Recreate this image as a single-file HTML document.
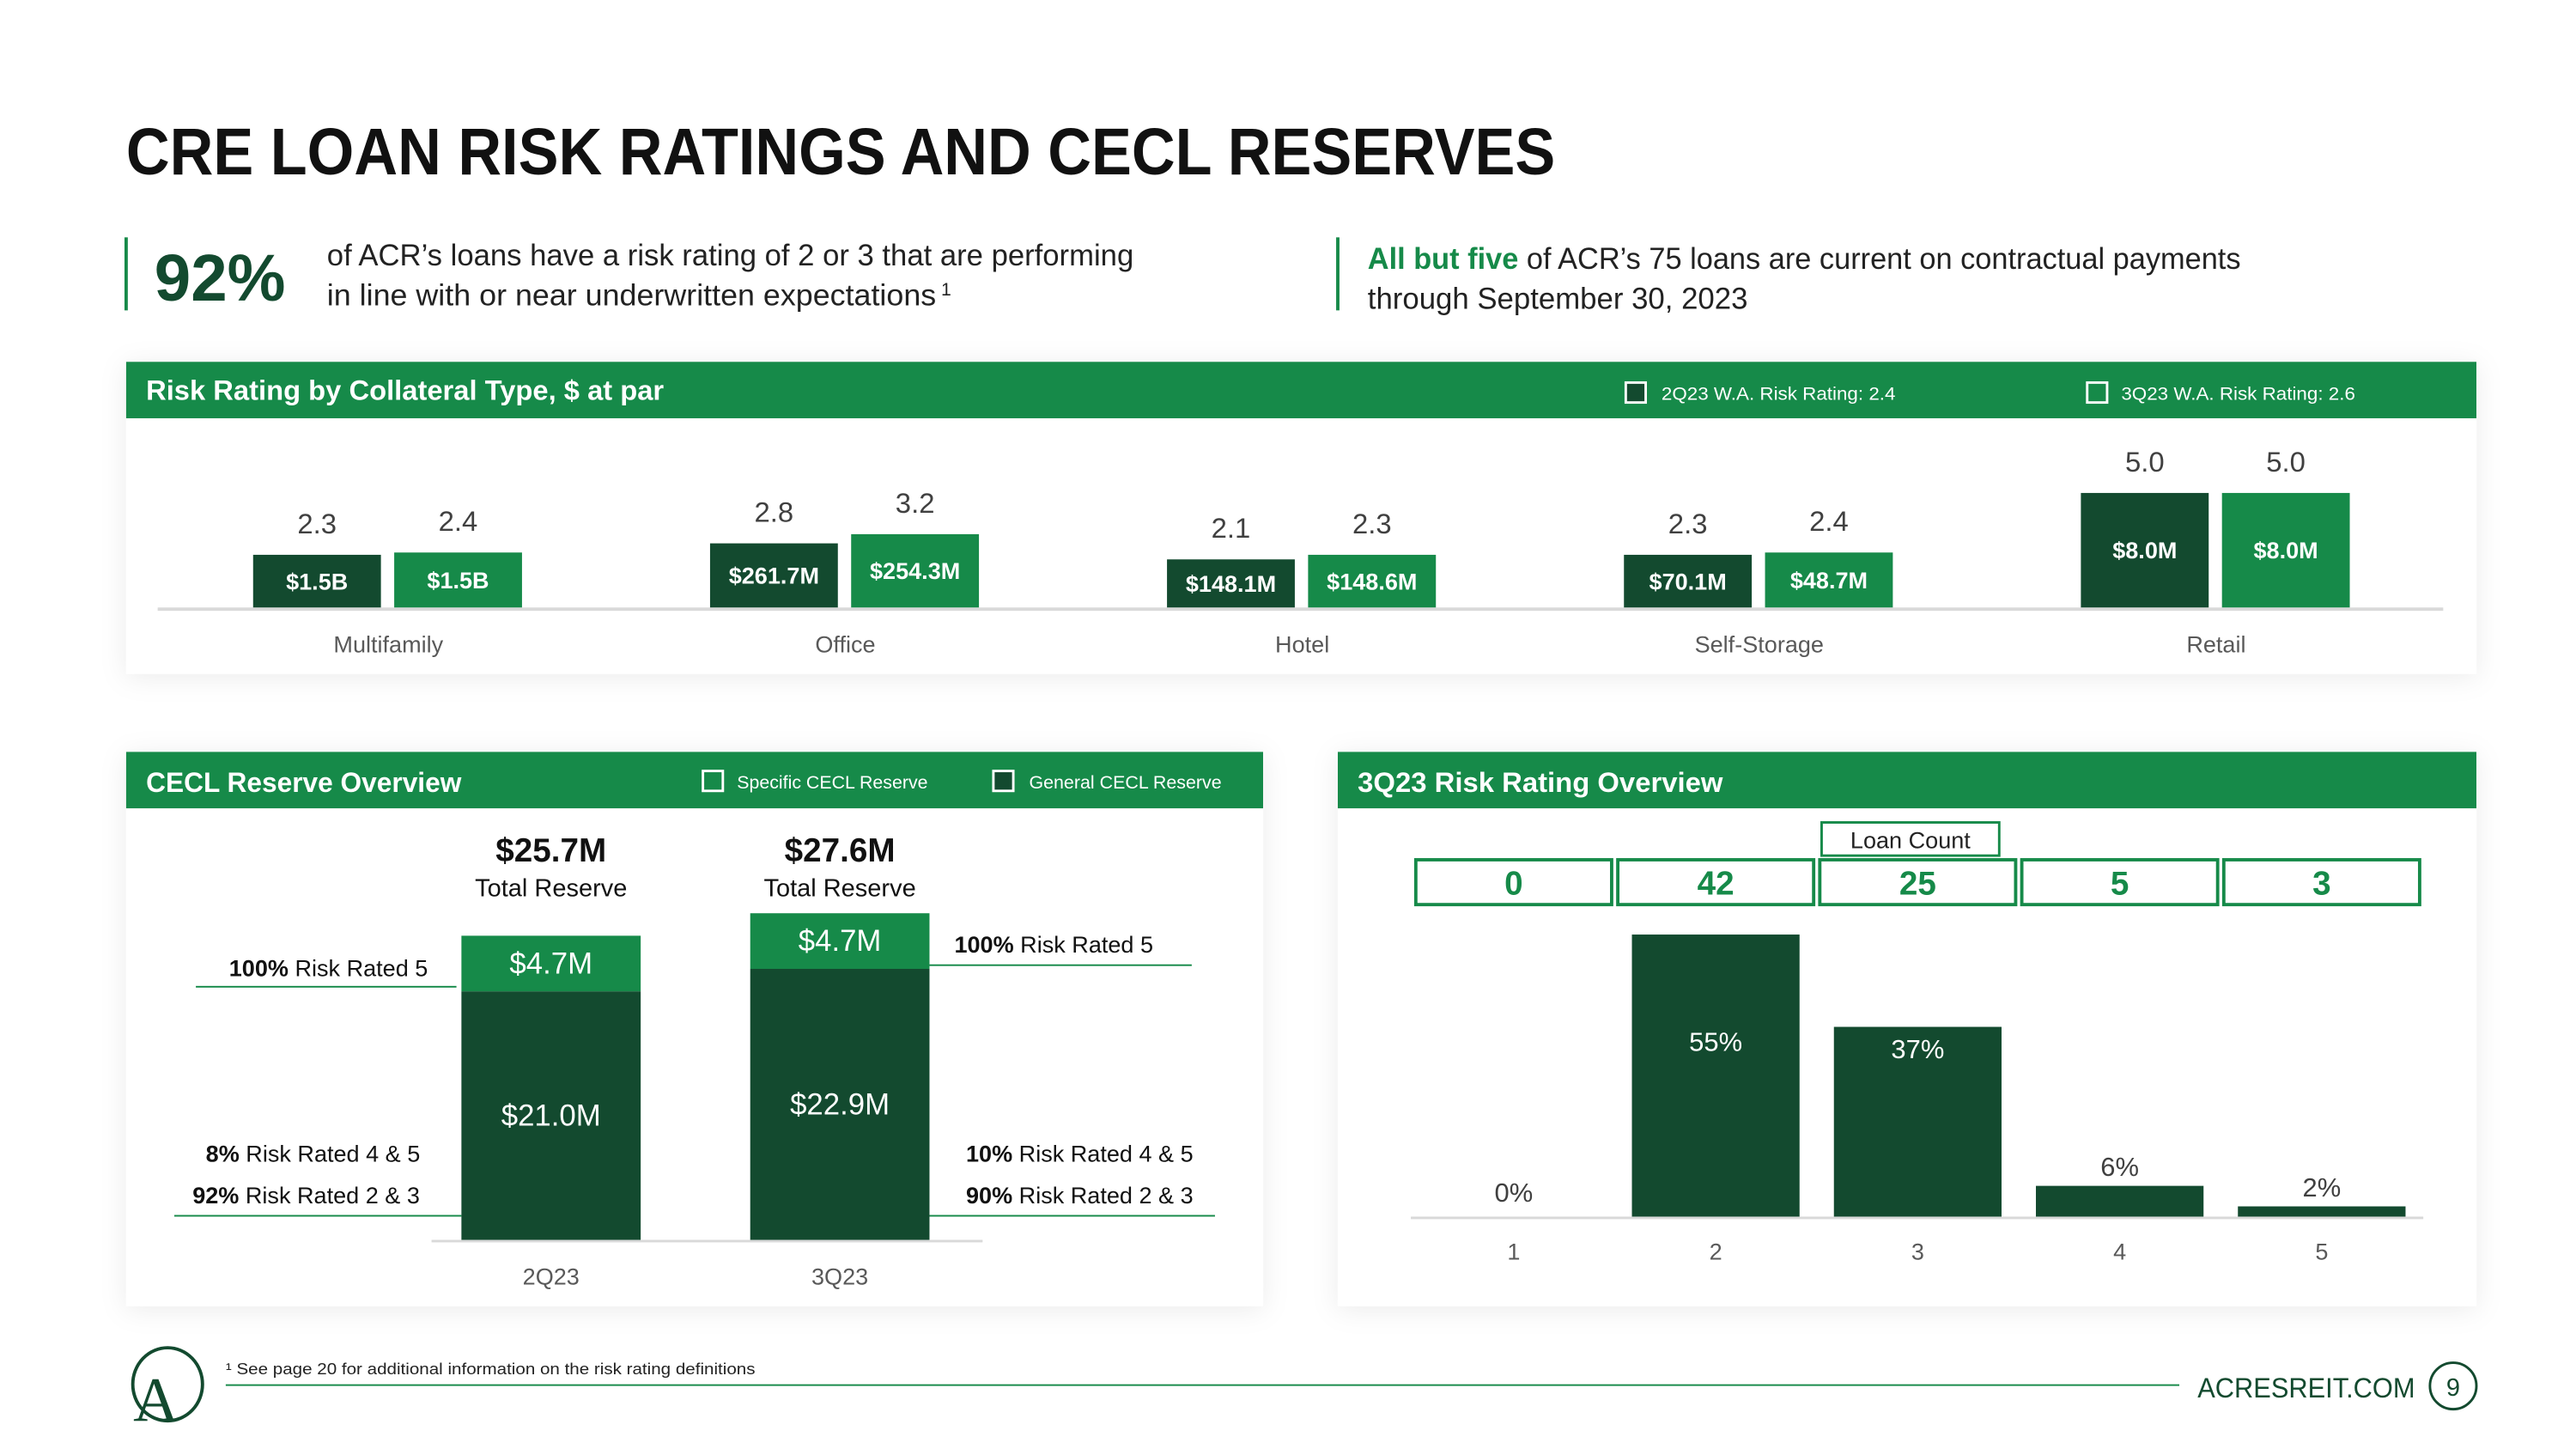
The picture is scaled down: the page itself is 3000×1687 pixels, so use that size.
<!DOCTYPE html>
<html><head><meta charset="utf-8"><style>
html,body{margin:0;padding:0;background:#fff;}
svg{display:block;font-family:"Liberation Sans",sans-serif;}
</style></head><body>
<svg id="s" width="3000" height="1687" viewBox="0 0 1552 873" preserveAspectRatio="none" xmlns="http://www.w3.org/2000/svg">
<defs><filter id="sh" x="-5%" y="-10%" width="110%" height="125%"><feDropShadow dx="0" dy="2" stdDeviation="8" flood-color="#000" flood-opacity="0.08"/></filter></defs>
<text x="76" y="105" font-size="40" font-weight="bold" fill="#111" textLength="861" lengthAdjust="spacingAndGlyphs">CRE LOAN RISK RATINGS AND CECL RESERVES</text>
<rect x="75" y="143" width="2" height="44" fill="#168a49"/>
<text x="93" y="181" font-size="40" font-weight="bold" fill="#134a2f" textLength="79" lengthAdjust="spacingAndGlyphs">92%</text>
<text x="197" y="160" font-size="18" fill="#222" textLength="486" lengthAdjust="spacingAndGlyphs">of ACR’s loans have a risk rating of 2 or 3 that are performing</text>
<text x="197" y="184" font-size="18" fill="#222" textLength="367" lengthAdjust="spacingAndGlyphs">in line with or near underwritten expectations</text>
<text x="567" y="178" font-size="11" fill="#222">1</text>
<rect x="805" y="143" width="2" height="44" fill="#168a49"/>
<text x="824" y="162" font-size="18" fill="#222" textLength="526" lengthAdjust="spacingAndGlyphs"><tspan font-weight="bold" fill="#168a49">All but five</tspan> of ACR’s 75 loans are current on contractual payments</text>
<text x="824" y="186" font-size="18" fill="#222" textLength="229" lengthAdjust="spacingAndGlyphs">through September 30, 2023</text>

<g>
<rect x="76" y="218" width="1416" height="188" fill="#fff" filter="url(#sh)"/>
<rect x="76" y="218" width="1416" height="34" fill="#168a49"/>
<text x="88" y="241" font-size="17" font-weight="bold" fill="#fff" textLength="312" lengthAdjust="spacingAndGlyphs">Risk Rating by Collateral Type, $ at par</text>
<rect x="979.5" y="230.5" width="12" height="12" fill="#134a2f" stroke="#fff" stroke-width="1.5"/>
<text x="1001" y="241" font-size="11" fill="#fff" textLength="141" lengthAdjust="spacingAndGlyphs">2Q23 W.A. Risk Rating: 2.4</text>
<rect x="1257.5" y="230.5" width="12" height="12" fill="#168a49" stroke="#fff" stroke-width="1.5"/>
<text x="1278" y="241" font-size="11" fill="#fff" textLength="141" lengthAdjust="spacingAndGlyphs">3Q23 W.A. Risk Rating: 2.6</text>
<rect x="95" y="366" width="1377" height="2" fill="#d9d9d9"/>
<g id="g1"></g>
</g>

<g>
<rect x="76" y="453" width="685" height="334" fill="#fff" filter="url(#sh)"/>
<rect x="76" y="453" width="685" height="34" fill="#168a49"/>
<text x="88" y="477" font-size="17" font-weight="bold" fill="#fff" textLength="190" lengthAdjust="spacingAndGlyphs">CECL Reserve Overview</text>
<rect x="423.5" y="464.5" width="12" height="12" fill="#168a49" stroke="#fff" stroke-width="1.5"/>
<text x="444" y="475" font-size="11" fill="#fff" textLength="115" lengthAdjust="spacingAndGlyphs">Specific CECL Reserve</text>
<rect x="598.5" y="464.5" width="12" height="12" fill="#134a2f" stroke="#fff" stroke-width="1.5"/>
<text x="620" y="475" font-size="11" fill="#fff" textLength="116" lengthAdjust="spacingAndGlyphs">General CECL Reserve</text>
<rect x="260" y="747" width="332" height="1.5" fill="#d9d9d9"/>
<g font-size="14" fill="#111">
<text x="138" y="588"><tspan font-weight="bold">100%</tspan> Risk Rated 5</text>
<rect x="118" y="594" width="157" height="1" fill="#168a49"/>
<text x="124" y="700"><tspan font-weight="bold">8%</tspan> Risk Rated 4 &amp; 5</text>
<text x="116" y="725"><tspan font-weight="bold">92%</tspan> Risk Rated 2 &amp; 3</text>
<rect x="105" y="732" width="173" height="1" fill="#168a49"/>
<text x="575" y="574"><tspan font-weight="bold">100%</tspan> Risk Rated 5</text>
<rect x="560" y="581" width="158" height="1" fill="#168a49"/>
<text x="582" y="700"><tspan font-weight="bold">10%</tspan> Risk Rated 4 &amp; 5</text>
<text x="582" y="725"><tspan font-weight="bold">90%</tspan> Risk Rated 2 &amp; 3</text>
<rect x="560" y="732" width="172" height="1" fill="#168a49"/>
</g>
<g id="g2"></g>
</g>

<g>
<rect x="806" y="453" width="686" height="334" fill="#fff" filter="url(#sh)"/>
<rect x="806" y="453" width="686" height="34" fill="#168a49"/>
<text x="818" y="477" font-size="17" font-weight="bold" fill="#fff" textLength="220" lengthAdjust="spacingAndGlyphs">3Q23 Risk Rating Overview</text>
<rect x="1097.5" y="495.5" width="107" height="20" fill="none" stroke="#168a49" stroke-width="1.5"/>
<text x="1151" y="511" font-size="14" fill="#222" text-anchor="middle">Loan Count</text>
<rect x="850" y="733" width="610" height="1.5" fill="#d9d9d9"/>
<g id="g3"></g>
</g>

<g>
<g>
<ellipse cx="101" cy="834" rx="21" ry="22" fill="none" stroke="#134a2f" stroke-width="2"/>
<text x="94" y="856" font-family="Liberation Serif,serif" font-size="38" fill="#134a2f" text-anchor="middle">A</text>
</g>
<text x="136" y="828" font-size="9.5" fill="#222" textLength="319" lengthAdjust="spacingAndGlyphs">¹ See page 20 for additional information on the risk rating definitions</text>
<rect x="136" y="834" width="1177" height="1" fill="#168a49"/>
<text x="1324" y="842" font-size="17" fill="#134a2f" textLength="131" lengthAdjust="spacingAndGlyphs">ACRESREIT.COM</text>
<circle cx="1478" cy="835" r="14" fill="none" stroke="#134a2f" stroke-width="1.5"/>
<text x="1478" y="841" font-size="15" fill="#134a2f" text-anchor="middle">9</text>
</g>
</svg>
<script>
// Chart 1: risk rating by collateral type
const cats1 = ["Multifamily","Office","Hotel","Self-Storage","Retail"];
const rating2Q = [2.3,2.8,2.1,2.3,5.0];
const rating3Q = [2.4,3.2,2.3,2.4,5.0];
const par2Q = ["$1.5B","$261.7M","$148.1M","$70.1M","$8.0M"];
const par3Q = ["$1.5B","$254.3M","$148.6M","$48.7M","$8.0M"];
// Chart 2: CECL reserve
const quarters = ["2Q23","3Q23"];
const generalCECL = [21.0,22.9];
const specificCECL = [4.7,4.7];
const totalCECL = ["$25.7M","$27.6M"];
// Chart 3: 3Q23 risk rating overview
const ratings = ["1","2","3","4","5"];
const ratingPct = [0,55,37,6,2];
const loanCounts = [0,42,25,5,3];

const NS="http://www.w3.org/2000/svg";
function mk(parent,tag,attrs,txt){const e=document.createElementNS(NS,tag);for(const k in attrs)e.setAttribute(k,attrs[k]);if(txt!==undefined)e.textContent=txt;parent.appendChild(e);return e;}

// chart 1
const g1=document.getElementById('g1');
const base1=366;
const x1=i=>234+i*275.3;
const y1=v=>v*13.8;
const bw1=77;
cats1.forEach((c,i)=>{
  [[rating2Q,par2Q,-43,'#134a2f','2q23'],[rating3Q,par3Q,42,'#168a49','3q23']].forEach(s=>{
    const cx=x1(i)+s[2], h=y1(s[0][i]);
    const b=mk(g1,'rect',{x:cx-bw1/2,y:base1-h,width:bw1,height:h,fill:s[3]});
    
    
    const l=mk(g1,'text',{x:cx,y:base1-h/2+5,'font-size':14,'font-weight':'bold',fill:'#fff','text-anchor':'middle'},s[1][i]);
    
    
    const r=mk(g1,'text',{x:cx,y:base1-h-13,'font-size':17,fill:'#404040','text-anchor':'middle'},s[0][i].toFixed(1));
    
    
  });
  const t=mk(g1,'text',{x:x1(i),y:393,'font-size':14,fill:'#595959','text-anchor':'middle'},c);
  
  
});

// chart 2
const g2=document.getElementById('g2');
const base2=747;
const x2=i=>332+i*174;
const y2=v=>v*7.13;
const bw2=108;
quarters.forEach((q,i)=>{
  const cx=x2(i), hg=y2(generalCECL[i]), hs=y2(specificCECL[i]);
  const b=mk(g2,'rect',{x:cx-bw2/2,y:base2-hg,width:bw2,height:hg,fill:'#134a2f'});
  
  
  const s=mk(g2,'rect',{x:cx-bw2/2,y:base2-hg-hs,width:bw2,height:hs,fill:'#168a49'});
  
  
  const lg=mk(g2,'text',{x:cx,y:base2-hg*0.5+6,'font-size':18,fill:'#fff','text-anchor':'middle'},'$'+generalCECL[i].toFixed(1)+'M');
  
  
  const ls=mk(g2,'text',{x:cx,y:base2-hg-hs/2+6,'font-size':18,fill:'#fff','text-anchor':'middle'},'$'+specificCECL[i].toFixed(1)+'M');
  
  
  const tt=mk(g2,'text',{x:cx,y:519,'font-size':20,'font-weight':'bold',fill:'#111','text-anchor':'middle'},totalCECL[i]);
  
  
  const tl=mk(g2,'text',{x:cx,y:540,'font-size':15,fill:'#111','text-anchor':'middle'},'Total Reserve');
  
  
  const xl=mk(g2,'text',{x:cx,y:774,'font-size':14,fill:'#595959','text-anchor':'middle'},q);
  
  
});

// chart 3
const g3=document.getElementById('g3');
const base3=733;
const x3=i=>912+i*121.7;
const y3=v=>v*3.09;
const bw3=101;
ratings.forEach((r,i)=>{
  const cx=x3(i), h=y3(ratingPct[i]);
  const box=mk(g3,'rect',{x:cx-59,y:518,width:118,height:27,fill:'none',stroke:'#168a49','stroke-width':2});
  
  
  const ct=mk(g3,'text',{x:cx,y:539,'font-size':20,'font-weight':'bold',fill:'#168a49','text-anchor':'middle'},String(loanCounts[i]));
  
  
  const b=mk(g3,'rect',{x:cx-bw3/2,y:base3-h,width:bw3,height:h,fill:'#134a2f'});
  
  
  let ly,col;
  if(ratingPct[i]>=20){ly=base3-h+(ratingPct[i]>50?70:19);col='#fff';}
  else{ly=base3-h-(h>0?6:9);col='#404040';}
  const pl=mk(g3,'text',{x:cx,y:ly,'font-size':16,fill:col,'text-anchor':'middle'},ratingPct[i]+'%');
  
  
  const xl=mk(g3,'text',{x:cx,y:759,'font-size':14,fill:'#595959','text-anchor':'middle'},r);
  
  
});
</script>
</body></html>
